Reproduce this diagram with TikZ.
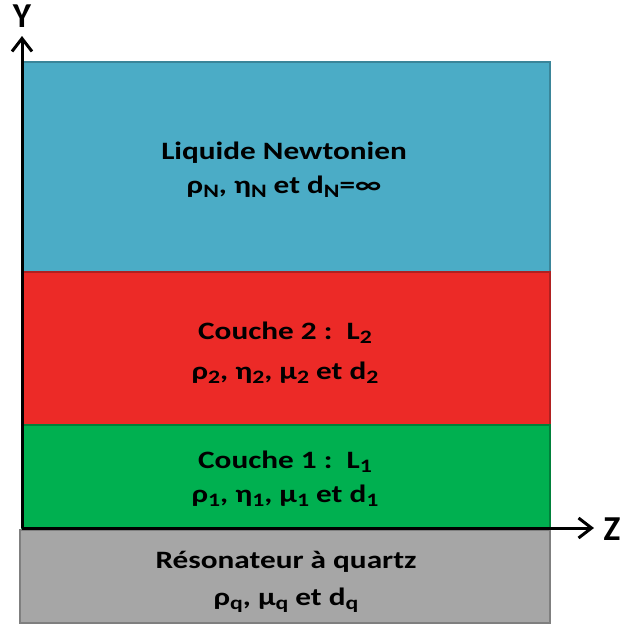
\documentclass[tikz,border=0pt]{standalone}
\usepackage{fontspec}
\setmainfont{Carlito}
\usetikzlibrary{arrows.meta}
\definecolor{cblue}{HTML}{4BACC6}
\definecolor{cblueD}{HTML}{3A8599}
\definecolor{cred}{HTML}{EC2A27}
\definecolor{credD}{HTML}{B02020}
\definecolor{cgreen}{HTML}{00B050}
\definecolor{cgreenD}{HTML}{00803A}
\definecolor{cgray}{HTML}{A6A6A6}
\definecolor{cgrayD}{HTML}{7F7F7F}
\newcommand\sbs[1]{\raisebox{-4.5pt}{\fontsize{19}{19}\selectfont #1}}
\tikzset{
  layer/.style={line width=1.2pt},
  lbl/.style={font=\bfseries\fontsize{25}{30}\selectfont, inner sep=0pt, text=black, anchor=base, xscale=1.25},
  axis/.style={line width=3pt, -{Straight Barb[length=13pt,width=20pt,line width=3pt]}},
  axlbl/.style={font=\bfseries\fontsize{35}{35}\selectfont, inner sep=0pt}
}
\begin{document}
\begin{tikzpicture}[x=1pt,y=-1pt]
\useasboundingbox (0,0) rectangle (620,625);
\draw[layer, fill=cblue, draw=cblueD] (22,62) rectangle (550,272);
\draw[layer, fill=cred, draw=credD] (22,272) rectangle (550,425);
\draw[layer, fill=cgreen, draw=cgreenD] (22,425) rectangle (550,528);
\draw[layer, fill=cgray, draw=cgrayD] (20,530) rectangle (550,623);
\node[lbl] (tNa) at (284,159) {Liquide Newtonien};
\node[lbl] (tNb) at (284,193) {ρ\sbs{N}, η\sbs{N} et d\sbs{N}=∞};
\node[lbl] (t2a) at (285,339) {Couche 2 :\ \ L\sbs{2}};
\node[lbl] (t2b) at (285,379) {ρ\sbs{2}, η\sbs{2}, μ\sbs{2} et d\sbs{2}};
\node[lbl] (t1a) at (285,468) {Couche 1 :\ \ L\sbs{1}};
\node[lbl] (t1b) at (285,502) {ρ\sbs{1}, η\sbs{1}, μ\sbs{1} et d\sbs{1}};
\node[lbl] (tqa) at (286,568) {Résonateur à quartz};
\node[lbl] (tqb) at (286,605) {ρ\sbs{q}, μ\sbs{q} et d\sbs{q}};
\coordinate (O) at (22,528);
\coordinate (Ytip) at (22,36);
\coordinate (Ztip) at (594,528);
\draw[axis] (O) -- (Ytip);
\draw[axis] (O) -- (Ztip);
\node[axlbl] (Y) at (22,16) {Y};
\node[axlbl] (Z) at (612,529) {Z};
\end{tikzpicture}
\end{document}
